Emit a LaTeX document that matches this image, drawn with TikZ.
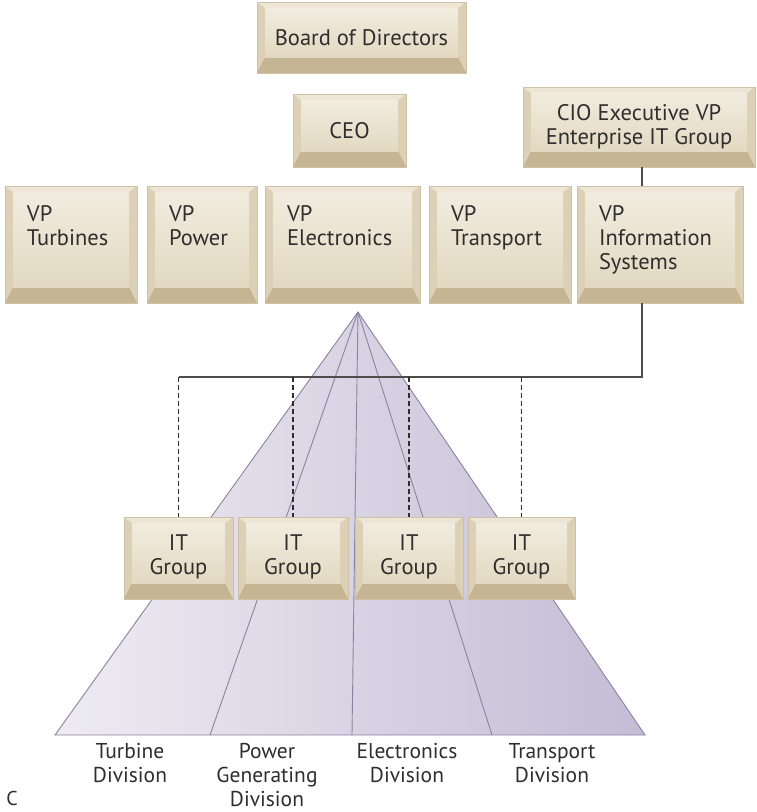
\documentclass[tikz,border=0pt]{standalone}
\usepackage{fontspec}
\setmainfont{PT Sans}
\usepackage{tikz}
\usetikzlibrary{shapes,positioning,calc}
\definecolor{bevside}{HTML}{DCD0B6}
\definecolor{bevtop}{HTML}{EDE6D6}
\definecolor{bevbot}{HTML}{C6B592}
\definecolor{facehi}{HTML}{F1ECDF}
\definecolor{facelo}{HTML}{E3D9C2}
\definecolor{bevedge}{HTML}{CEC1A4}
\definecolor{pyrlight}{HTML}{EEECF2}
\definecolor{pyrdark}{HTML}{C3BCD5}
\definecolor{pyrline}{HTML}{8A83A2}
\definecolor{ink}{HTML}{2E2E2E}
\tikzstyle{office} = [rectangle, draw=bevedge, line width=0.8pt, text=ink, font=\fontsize{22.5}{24}\selectfont,
  align=center, inner sep=0pt,
  path picture={
    \fill[bevside] (path picture bounding box.south west) rectangle (path picture bounding box.north east);
    \fill[bevtop] (path picture bounding box.north west) -- (path picture bounding box.north east)
      -- ([shift={(-8pt,-6pt)}]path picture bounding box.north east) -- ([shift={(8pt,-6pt)}]path picture bounding box.north west) -- cycle;
    \fill[bevbot] (path picture bounding box.south west) -- (path picture bounding box.south east)
      -- ([shift={(-8pt,16pt)}]path picture bounding box.south east) -- ([shift={(8pt,16pt)}]path picture bounding box.south west) -- cycle;
    \shade[top color=facehi, bottom color=facelo] ([shift={(8pt,16pt)}]path picture bounding box.south west)
      rectangle ([shift={(-8pt,-6pt)}]path picture bounding box.north east);
  }]
\tikzstyle{vpbox} = [office, minimum height=117pt, align=left, text depth=62pt]
\tikzstyle{itbox} = [office, minimum height=82pt, text depth=6pt]
\tikzstyle{bus} = [draw=ink!85, line width=1.8pt]
\tikzstyle{dotlink} = [draw=ink, line width=1.5pt, dash pattern=on 5pt off 3pt]
\tikzstyle{pyredge} = [draw=pyrline, line width=0.9pt]
\tikzstyle{division} = [text=ink, font=\fontsize{21.5}{24}\selectfont, align=center, anchor=north]

\begin{document}
\begin{tikzpicture}[x=1pt,y=-1pt]
  \useasboundingbox (0,0) rectangle (757,812);
  % pyramid
  \coordinate (apex) at (358,312);
  \coordinate (b1) at (55,735);
  \coordinate (b2) at (210,735);
  \coordinate (b3) at (352,735);
  \coordinate (b4) at (492,735);
  \coordinate (b5) at (645,735);
  \shade[left color=pyrlight, right color=pyrdark] (apex) -- (b1) -- (b5) -- cycle;
  \draw[pyredge] (b1) -- (apex) -- (b5) -- cycle;
  \draw[pyredge] (apex) -- (b2);
  \draw[pyredge] (apex) -- (355,520) -- (b3);
  \draw[pyredge] (apex) -- (b4);

  \node (bod) at (361.5,37.5) [office, minimum width=209pt, minimum height=71pt] {Board of Directors};
  \node (ceo) at (349.5,130.5) [office, minimum width=113pt, minimum height=73pt] {CEO};
  \node (cio) at (639,127) [office, minimum width=232pt, minimum height=80pt] {CIO Executive VP\\Enterprise IT Group};

  \node (vpt) at (71,244.5) [vpbox, minimum width=132pt, text width=88pt] {VP\\Turbines};
  \node (vpp) at (202,244.5) [vpbox, minimum width=110pt, text width=66pt] {VP\\Power};
  \node (vpe) at (342.5,244.5) [vpbox, minimum width=155pt, text width=111pt] {VP\\Electronics};
  \node (vptr) at (500,244.5) [vpbox, minimum width=142pt, text width=98pt] {VP\\Transport};
  \node (vpis) at (660,244.5) [vpbox, minimum width=166pt, text width=122pt] {VP\\Information\\Systems};

  \node (it1) at (178.5,558) [itbox, minimum width=109pt] {IT\\Group};
  \node (it2) at (293,558) [itbox, minimum width=110pt] {IT\\Group};
  \node (it3) at (409,558) [itbox, minimum width=108pt] {IT\\Group};
  \node (it4) at (521.5,558) [itbox, minimum width=107pt] {IT\\Group};

  % reporting lines
  \coordinate (busR) at (642,377);
  \coordinate (busL) at (179,377);
  \draw[bus] (cio.south -| busR) -- (vpis.north -| busR);
  \draw[bus] (vpis.south -| busR) -- (busR) -- (busL);
  \draw[dotlink] (it1.north |- busL) -- (it1.north);
  \draw[dotlink] (it2.north |- busL) -- (it2.north);
  \draw[dotlink] (it3.north |- busL) -- (it3.north);
  \draw[dotlink] (it4.north |- busL) -- (it4.north);

  \node (d1) at (130,740) [division] {Turbine\\Division};
  \node (d2) at (267,740) [division] {Power\\Generating\\Division};
  \node (d3) at (407,740) [division] {Electronics\\Division};
  \node (d4) at (552,740) [division] {Transport\\Division};
  \node (fig) at (12,798) [text=ink, font=\fontsize{20}{22}\selectfont] {C};
\end{tikzpicture}
\end{document}
